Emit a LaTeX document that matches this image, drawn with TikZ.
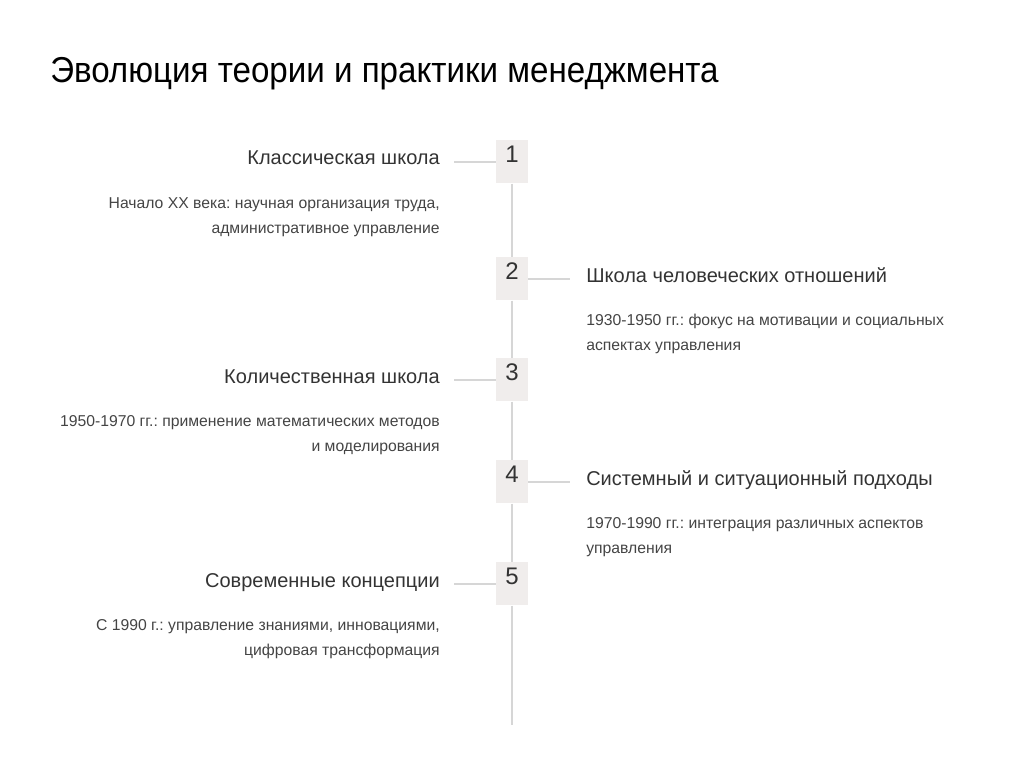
\documentclass[tikz,border=0pt]{standalone}
\usepackage{fontspec}
\setmainfont{Liberation Sans}
\newfontfamily\titlefont[FakeStretch=0.92]{Liberation Sans}
\usetikzlibrary{calc}
\definecolor{boxgray}{HTML}{F0EDEC}
\definecolor{linegray}{HTML}{D6D6D6}
\definecolor{textdark}{HTML}{333333}
\definecolor{textmid}{HTML}{444444}
\frenchspacing

\begin{document}
\begin{tikzpicture}[x=0.75pt, y=-0.75pt,
  numbox/.style={fill=boxgray, inner sep=0pt, minimum width=24pt, anchor=north,
    text height=16.5pt, text depth=15.75pt, font=\fontsize{18}{18}\selectfont, text=textdark},
  conn/.style={linegray, line width=1.5pt},
  head/.style={font=\fontsize{15}{18}\selectfont, text=textdark, inner sep=0pt},
  desc/.style={font=\fontsize{11.8}{18.75}\selectfont, text=textmid, inner sep=0pt}]
  \useasboundingbox (0,0) rectangle (1024,777);
  \node[anchor=base west, inner sep=0pt, font=\titlefont\fontsize{27}{30}\selectfont] (title) at (50,83)
    {Эволюция теории и практики менеджмента};
  % timeline
  \foreach \i/\y in {1/140,2/257,3/358,4/460,5/562}
    \node[numbox] (b\i) at (512,\y) {\i};
  \coordinate (tail) at (512,725);
  \draw[conn] (b1) -- (b2) -- (b3) -- (b4) -- (b5) -- (tail);
  % left side
  \node[head, anchor=base east] (h1) at (440,165) {Классическая школа};
  \node[desc, anchor=north east, align=right] (d1) at (440,197)
    {Начало XX века: научная организация труда,\\административное управление};
  \node[head, anchor=base east] (h3) at (440,383) {Количественная школа};
  \node[desc, anchor=north east, align=right] (d3) at (440,415)
    {1950-1970 гг.: применение математических методов\\и моделирования};
  \node[head, anchor=base east] (h5) at (440,587) {Современные концепции};
  \node[desc, anchor=north east, align=right] (d5) at (440,619)
    {С 1990 г.: управление знаниями, инновациями,\\цифровая трансформация};
  % right side
  \node[head, anchor=base west] (h2) at (586,282) {Школа человеческих отношений};
  \node[desc, anchor=north west, align=left] (d2) at (586,314)
    {1930-1950 гг.: фокус на мотивации и социальных\\аспектах управления};
  \node[head, anchor=base west] (h4) at (586,485) {Системный и ситуационный подходы};
  \node[desc, anchor=north west, align=left] (d4) at (586,517)
    {1970-1990 гг.: интеграция различных аспектов\\управления};
  % ticks
  \foreach \i in {1,3,5}
    \draw[conn] (b\i.base west) -- ($(h\i.east |- b\i.base)+(14,0)$);
  \foreach \i in {2,4}
    \draw[conn] (b\i.base east) -- ($(h\i.west |- b\i.base)+(-16,0)$);
\end{tikzpicture}
\end{document}
